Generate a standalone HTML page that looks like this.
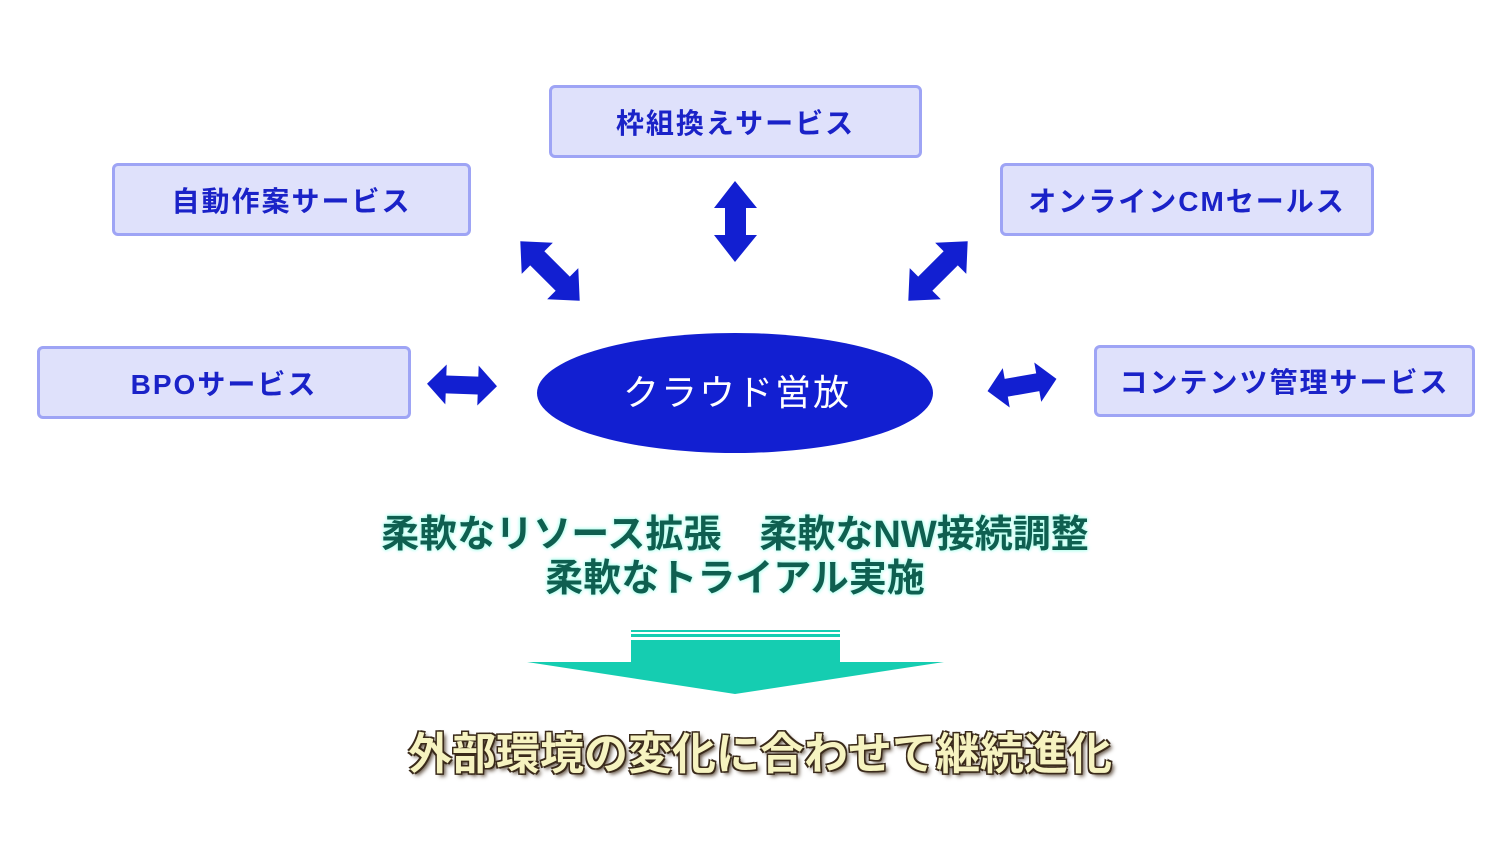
<!DOCTYPE html>
<html><head><meta charset="utf-8"><style>
body{margin:0;width:1512px;height:850px;background:#fff;overflow:hidden;position:relative;font-family:"Liberation Sans","Noto Sans CJK JP",sans-serif}
.box{position:absolute;box-sizing:border-box;background:#dfe1fb;border:3.5px solid #9ea4f5;border-radius:6px;color:#1a22c8;font-weight:bold;font-size:28px;letter-spacing:2px;display:flex;align-items:center;justify-content:center}
.g{position:absolute;left:0;width:1470px;text-align:center;font-weight:bold;font-size:38px;color:#0f5f50;text-shadow:0 0 3px #b8fff0,0 0 3px #b8fff0,0 0 5px #c8fff4;white-space:pre}
.b{position:absolute;left:0;width:1520px;text-align:center;font-weight:bold;font-size:44px;color:#f6f3c0;text-shadow:-1.5px -1.5px 0 #3a2a1a,1.5px -1.5px 0 #3a2a1a,-1.5px 1.5px 0 #3a2a1a,1.5px 1.5px 0 #3a2a1a,3px 3px 4px #5a4a3a}
</style></head><body>
<div class="box" style="left:549px;top:85px;width:373px;height:73px">枠組換えサービス</div>
<div class="box" style="left:112px;top:163px;width:359px;height:73px">自動作案サービス</div>
<div class="box" style="left:1000px;top:163px;width:374px;height:73px">オンラインCMセールス</div>
<div class="box" style="left:37px;top:346px;width:374px;height:73px">BPOサービス</div>
<div class="box" style="left:1094px;top:345px;width:381px;height:72px">コンテンツ管理サービス</div>
<svg style="position:absolute;left:0;top:0" width="1512" height="850">
<g fill="#121fd1">
<polygon points="735,181 757,208 746,208 746,235 757,235 735,262 714,235 725,235 725,208 714,208"/>
<g transform="translate(550,271) rotate(45)"><polygon points="-42,0 -18,-22 -18,-10 18,-10 18,-22 42,0 18,22 18,10 -18,10 -18,22"/></g>
<g transform="translate(938,271) rotate(-45)"><polygon points="-42,0 -18,-22 -18,-10 18,-10 18,-22 42,0 18,22 18,10 -18,10 -18,22"/></g>
<g transform="translate(462,385) rotate(2)"><polygon points="-35,0 -16,-20 -16,-9 16,-9 16,-20 35,0 16,20 16,9 -16,9 -16,20"/></g>
<g transform="translate(1022,385) rotate(-10)"><polygon points="-35,0 -16,-20 -16,-9 16,-9 16,-20 35,0 16,20 16,9 -16,9 -16,20"/></g>
<ellipse cx="735" cy="393" rx="198" ry="60"/>
</g>
<text x="737" y="405" fill="#fff" font-size="36" text-anchor="middle" letter-spacing="2" font-family="Liberation Sans, Noto Sans CJK JP, sans-serif">クラウド営放</text>
<g fill="#15cdb1">
<rect x="631" y="630" width="209" height="2"/>
<rect x="631" y="634" width="209" height="3"/>
<polygon points="631,640 840,640 840,662 944,662 735,694 527,662 631,662"/>
</g>
</svg>
<div class="g" style="top:503px">柔軟なリソース拡張　柔軟なNW接続調整</div>
<div class="g" style="top:547px">柔軟なトライアル実施</div>
<div class="b" style="top:718px">外部環境の変化に合わせて継続進化</div>
</body></html>
